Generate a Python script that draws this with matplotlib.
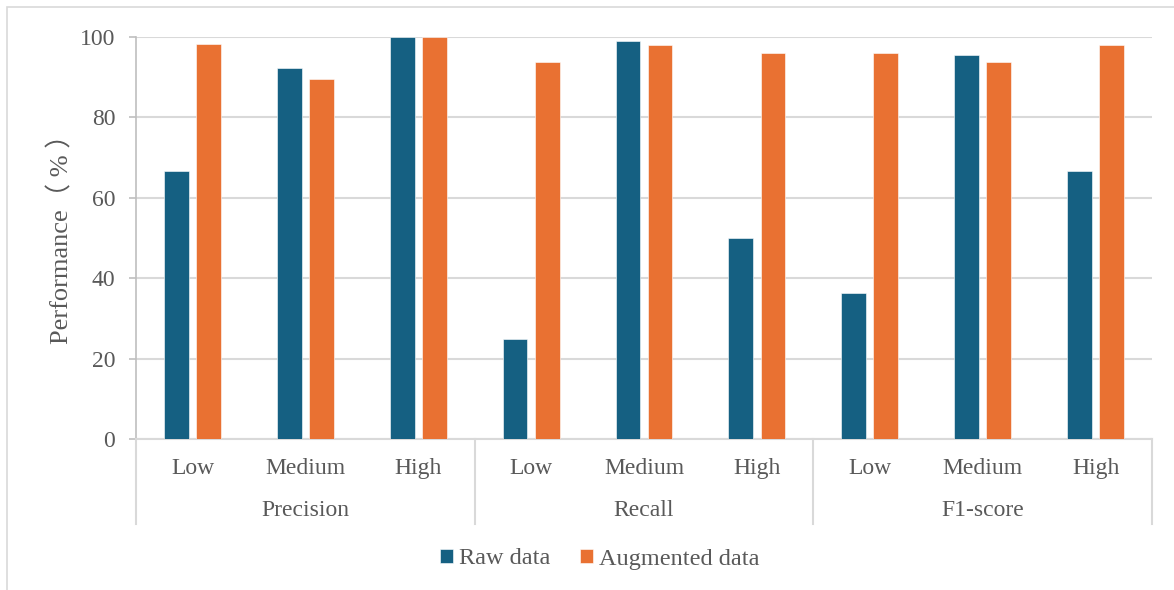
import matplotlib
matplotlib.use("Agg")
import matplotlib.pyplot as plt
from matplotlib.patches import Rectangle
import numpy as np

groups = ["Precision", "Recall", "F1-score"]
levels = ["Low", "Medium", "High"]
raw_data = [66.7, 92.3, 100.0, 25.0, 99.0, 50.0, 36.4, 95.5, 66.7]
augmented_data = [98.3, 89.6, 100.0, 93.8, 98.0, 96.0, 96.0, 93.8, 98.0]
series_names = ["Raw data", "Augmented data"]
colors = ["#156082", "#E97132"]

W, H = 1174, 590
fig = plt.figure(figsize=(W / 100, H / 100), dpi=100)
plt.rcParams['font.family'] = ['Liberation Serif', 'Noto Sans CJK SC']
txt = "#595959"
grid_c = "#d9d9d9"

# outer border
fig.patches.append(Rectangle((7 / W, -0.05), 1.2, 1 - 7 / H + 0.05, transform=fig.transFigure,
                             fill=False, edgecolor=grid_c, linewidth=1.2))

L, R, T, B = 136, 1152, 37, 439
ax = fig.add_axes([L / W, 1 - B / H, (R - L) / W, (B - T) / H])

n = len(raw_data)
x = np.arange(n)
bw = 0.22
off = 0.142
ax.bar(x - off, raw_data, bw, color=colors[0], label=series_names[0], zorder=3,
       edgecolor="white", linewidth=0.4)
ax.bar(x + off, augmented_data, bw, color=colors[1], label=series_names[1], zorder=3,
       edgecolor="white", linewidth=0.4)

ax.set_xlim(-0.5, n - 0.5)
ax.set_ylim(0, 100)
ax.set_yticks(np.arange(0, 101, 20))
ax.yaxis.grid(True, color=grid_c, linewidth=1.5, zorder=0)
ax.set_axisbelow(True)
for s in ["top", "right"]:
    ax.spines[s].set_visible(False)
ax.spines["left"].set_color("#bfbfbf")
ax.spines["left"].set_linewidth(1.2)
ax.spines["bottom"].set_color(grid_c)
ax.spines["bottom"].set_linewidth(1.5)
ax.tick_params(axis="y", colors="#bfbfbf", labelcolor=txt, labelsize=17, length=5, width=1.2, pad=10)

ax.set_xticks(x)
ax.set_xticklabels(levels * len(groups))
ax.tick_params(axis="x", length=0, labelsize=17, labelcolor=txt, pad=14)

ph = B - T
sep_bottom = -(524 - B) / ph
trans = ax.get_xaxis_transform()
for i in range(len(groups) + 1):
    xs = -0.5 + 3 * i
    ax.plot([xs, xs], [0, sep_bottom], transform=trans, color=grid_c, linewidth=1.5, clip_on=False)
for i, g in enumerate(groups):
    ax.text(3 * i + 1, -(510 - B) / ph, g, transform=trans, ha="center", va="center",
            fontsize=17, color=txt)

ax.set_ylabel("Performance（ % ）", fontsize=19, color=txt)
ax.yaxis.set_label_coords(-0.062, 0.512)

handles, labels = ax.get_legend_handles_labels()
fig.legend(handles, labels, loc="center", bbox_to_anchor=(600 / W, 1 - 559 / H), ncol=2,
           frameon=False, fontsize=17.5, labelcolor=txt, handlelength=0.55, handleheight=0.55,
           handletextpad=0.25, columnspacing=1.2)

fig.savefig("out.png", dpi=100)
